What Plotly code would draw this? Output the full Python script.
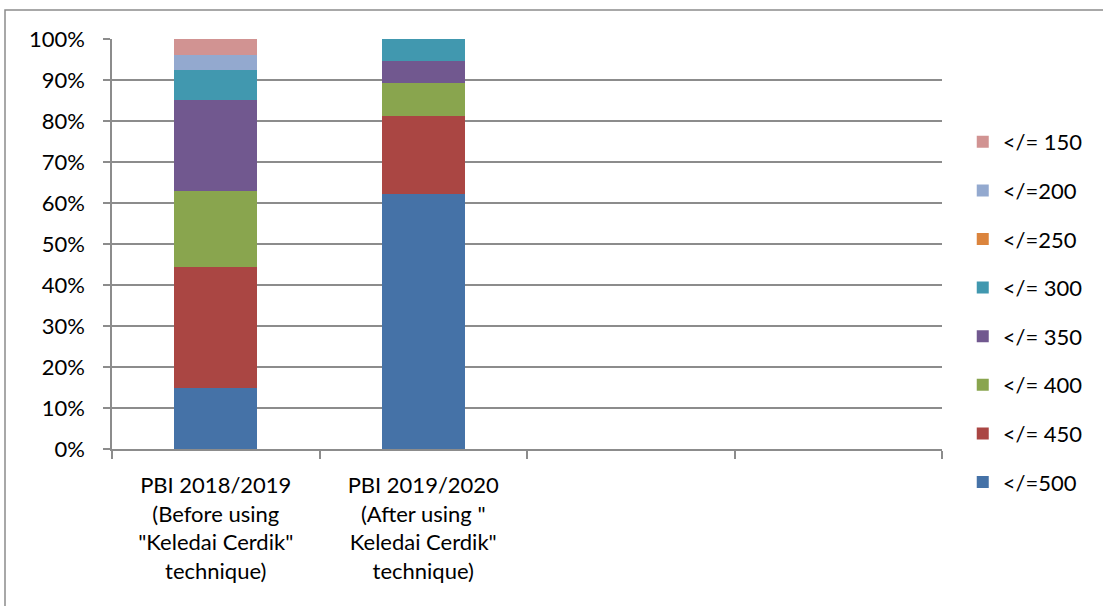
import plotly.graph_objects as go

categories = ["PBI 2018/2019<br>(Before using<br>\"Keledai Cerdik\"<br>technique)",
              "PBI 2019/2020<br>(After using \"<br>Keledai Cerdik\"<br>technique)",
              " ", "  "]

series_names = ["</=500", "</= 450", "</= 400", "</= 350", "</= 300", "</=250", "</=200", "</= 150"]
colors = ["#4572A7", "#AA4643", "#89A54E", "#71588F", "#4198AF", "#DB843D", "#93A9CF", "#D19392"]

# percentage share of students per score band
v500 = [14.8, 62.2, None, None]
v450 = [29.6, 18.9, None, None]
v400 = [18.5, 8.1, None, None]
v350 = [22.2, 5.4, None, None]
v300 = [7.4, 5.4, None, None]
v250 = [0, 0, None, None]
v200 = [3.7, 0, None, None]
v150 = [3.7, 0, None, None]
values = [v500, v450, v400, v350, v300, v250, v200, v150]

y_ticks = list(range(0, 101, 10))

fig = go.Figure()
n = len(series_names)
for i, (name, col, vals) in enumerate(zip(series_names, colors, values)):
    fig.add_trace(go.Bar(x=categories, y=vals, name=name, legendgroup=name,
                         legendrank=n - i,
                         marker=dict(color=col, line=dict(width=0))))

grid = "#8c8c8c"
fig.update_layout(
    barmode="stack",
    bargap=0.6,
    width=1103, height=606,
    margin=dict(l=112, r=161, t=39, b=157),
    paper_bgcolor="white", plot_bgcolor="white",
    font=dict(family="Lato", size=22, color="black"),
    legend=dict(traceorder="grouped", x=1.025, xanchor="left", y=0.80, yanchor="top",
                tracegroupgap=17, font=dict(size=22), itemwidth=30),
    xaxis=dict(type="category", showline=True, linecolor=grid, linewidth=1.5,
               ticks="outside", tickson="boundaries", ticklen=8, tickcolor=grid, tickwidth=1.5,
               tickfont=dict(size=22), ticklabelstandoff=16, showgrid=False),
    yaxis=dict(range=[0, 100], tickvals=y_ticks, ticktext=[f"{t}%" for t in y_ticks],
               showline=True, linecolor=grid, linewidth=1.5, ticks="outside", ticklen=7,
               tickcolor=grid, tickwidth=1.5, showgrid=True, gridcolor=grid, gridwidth=1.5,
               zeroline=False, tickfont=dict(size=22), ticklabelstandoff=14),
    shapes=[dict(type="rect", xref="paper", yref="paper",
                 x0=(5 - 112) / 830, x1=(1110 - 112) / 830,
                 y0=-(620 - 449) / 410, y1=(449 - 10) / 410,
                 line=dict(color="#8c8c8c", width=1.5), fillcolor="rgba(0,0,0,0)", layer="below")],
)

fig.write_html("out.html")
